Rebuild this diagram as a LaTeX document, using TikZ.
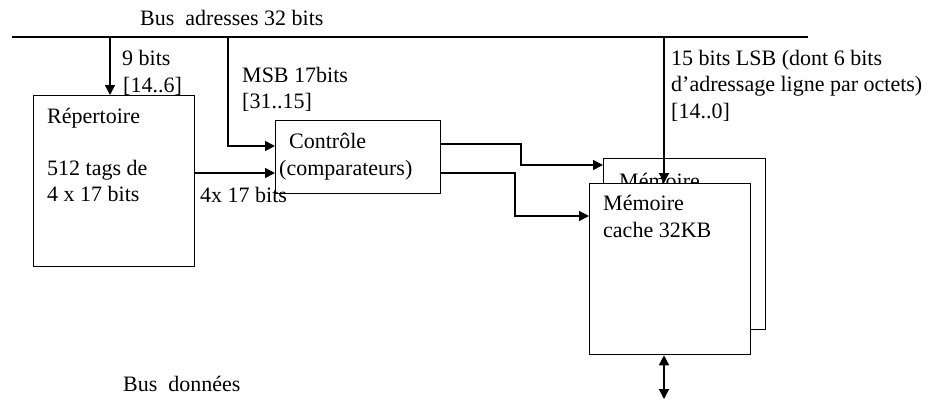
\documentclass[tikz,border=0pt]{standalone}
\usepackage{fontspec}
\setmainfont{Liberation Serif}
\usetikzlibrary{arrows.meta,calc}
\begin{document}
\begin{tikzpicture}[x=1pt,y=-1pt,
  box/.style={draw,line width=1.3pt,inner sep=0pt,anchor=north west},
  lbl/.style={anchor=base west,inner sep=0pt,font=\fontsize{22}{26.5}\selectfont},
  conn/.style={line width=1.5pt},
  arr/.style={conn,-{Triangle[length=10pt,width=10pt]}},
  darr/.style={conn,{Triangle[length=10pt,width=10pt]}-{Triangle[length=10pt,width=10pt]}}]
\useasboundingbox (0,0) rectangle (929,400);
% bus
\coordinate (busL) at (12,37);
\coordinate (busR) at (808,37);
\draw[conn] (busL) -- (busR);
\node[lbl] (tbus) at (140,25) {Bus\ \ adresses 32 bits};
% boxes
\node[box,minimum width=161pt,minimum height=171pt] (rep) at (33,95) {};
\node[box,minimum width=165pt,minimum height=73pt] (ctl) at (275,120) {};
\node[box,minimum width=162pt,minimum height=171pt] (memb) at (603,158) {};
\node[lbl] (tmemb) at (619,188) {Mémoire};
\node[box,fill=white,minimum width=161pt,minimum height=171pt] (memf) at (589,183) {};
% texts
\node[lbl] (t9) at (122,65) {9 bits};
\node[lbl] (t9b) at (123,92) {[14..6]};
\node[lbl] (tmsb) at (242,82) {MSB 17bits};
\node[lbl] (tmsbb) at (242,108) {[31..15]};
\node[lbl] (trep) at (47,123) {Répertoire};
\node[lbl] (trep2) at (47,175) {512 tags de};
\node[lbl] (trep3) at (47,201) {4 x 17 bits};
\node[lbl] (t4x) at (200,202) {4x 17 bits};
\node[lbl] (tctl) at (289,148) {Contrôle};
\node[lbl] (tctl2) at (279,175) {(comparateurs)};
\node[lbl] (tlsb) at (671,65) {15 bits LSB (dont 6 bits};
\node[lbl] (tlsb2) at (671,91.5) {d’adressage ligne par octets)};
\node[lbl] (tlsb3) at (671,118) {[14..0]};
\node[lbl] (tmemf) at (603,210) {Mémoire};
\node[lbl] (tmemf2) at (603,237) {cache 32KB};
\node[lbl] (tdon) at (123,391) {Bus\ \ données};
% connectors
\coordinate (b1) at (110,37);
\coordinate (b2) at (228,37);
\coordinate (b3) at (664,37);
\coordinate (c1) at (275,146);
\coordinate (c2) at (275,173);
\coordinate (m1) at (603,165);
\coordinate (m2) at (589,216);
\coordinate (dbot) at (664,399);
\draw[arr] (b1) -- (b1 |- rep.north);
\draw[arr] (b2) |- (c1);
\draw[arr] (rep.east |- c2) -- (c2);
\draw[arr] (ctl.east |- 0,144) -- (521,144) |- (m1);
\draw[arr] (ctl.east |- 0,173) -- (515,173) |- (m2);
\draw[arr] (b3) -- (b3 |- memf.north);
\draw[darr] (memf.south -| b3) -- (dbot);
\end{tikzpicture}
\end{document}
